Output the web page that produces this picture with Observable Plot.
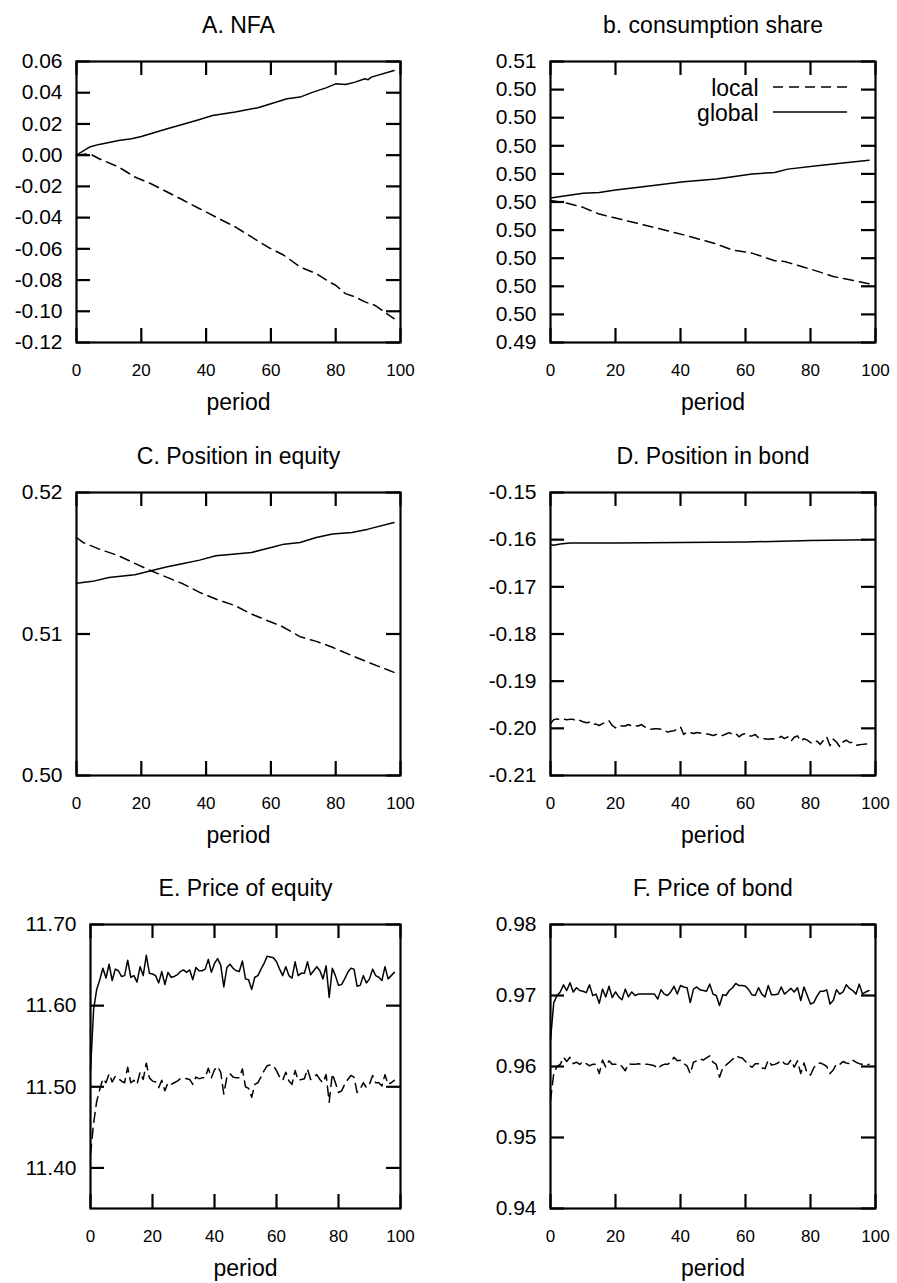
<!DOCTYPE html>
<html>
<head>
<meta charset="utf-8">
<script src="https://cdn.jsdelivr.net/npm/d3@7"></script>
<script src="https://cdn.jsdelivr.net/npm/@observablehq/plot@0.6"></script>
<style>
  body { margin: 0; background: #fff; }
  #chart { position: relative; width: 897px; height: 1283px; background: #fff; font-family: "Liberation Sans", Arial, Helvetica, sans-serif; }
  #chart svg { position: absolute; overflow: visible; }
</style>
</head>
<body>
<div id="chart"></div>
<script>
// ---------- shared x axis ----------
const xTicks = [0, 20, 40, 60, 80, 100];
const xTickLabels = ["0", "20", "40", "60", "80", "100"];
const periods = d3.range(0, 99);

// ---------- A. NFA ----------
const nfaYTicks = [-0.12, -0.10, -0.08, -0.06, -0.04, -0.02, 0.00, 0.02, 0.04, 0.06];
const nfaYLabels = ["-0.12", "-0.10", "-0.08", "-0.06", "-0.04", "-0.02", "0.00", "0.02", "0.04", "0.06"];
const nfaGlobalPeriods = [0, 4, 7, 13, 17, 20, 28, 34, 38, 42, 49, 56, 60, 65, 69, 73, 77, 80, 83, 86, 89, 90, 91, 98];
const nfaGlobal = [0.000, 0.0052, 0.0069, 0.0094, 0.0105, 0.0120, 0.0169, 0.0205, 0.0229, 0.0254, 0.0276, 0.0304, 0.0329, 0.0361, 0.0372, 0.0404, 0.0431, 0.0457, 0.0453, 0.0468, 0.0489, 0.0483, 0.0500, 0.0542];
const nfaLocalPeriods = [0, 4, 7, 13, 18, 23, 28, 33, 38, 43, 49, 54, 59, 64, 69, 74, 78, 80, 83, 86, 89, 92, 95, 98];
const nfaLocal = [0.000, 0.0010, -0.0023, -0.0076, -0.0140, -0.0183, -0.0236, -0.0289, -0.0343, -0.0396, -0.0460, -0.0524, -0.0588, -0.0641, -0.0716, -0.0759, -0.0812, -0.0833, -0.0887, -0.0908, -0.0940, -0.0961, -0.1004, -0.1047];

// ---------- b. consumption share ----------
const consYTicks = [0.495, 0.496, 0.497, 0.498, 0.499, 0.500, 0.501, 0.502, 0.503, 0.504, 0.505];
const consYLabels = ["0.49", "0.50", "0.50", "0.50", "0.50", "0.50", "0.50", "0.50", "0.50", "0.50", "0.51"];
const consGlobalPeriods = [0, 10, 15, 20, 31, 41, 51, 55, 62, 69, 73, 82, 98];
const consGlobal = [0.50014, 0.50031, 0.50034, 0.50043, 0.50058, 0.50072, 0.50082, 0.50088, 0.50100, 0.50105, 0.50117, 0.50129, 0.50149];
const consLocalPeriods = [0, 4, 10, 15, 20, 31, 41, 51, 56, 62, 69, 72, 78, 82, 87, 98];
const consLocal = [0.50005, 0.49999, 0.49981, 0.49957, 0.49943, 0.49912, 0.49883, 0.49851, 0.49829, 0.49818, 0.49791, 0.49788, 0.49768, 0.49754, 0.49735, 0.49709];
const legendLabels = ["local", "global"];

// ---------- C. Position in equity ----------
const eqPosYTicks = [0.50, 0.51, 0.52];
const eqPosYLabels = ["0.50", "0.51", "0.52"];
const eqPosGlobalPeriods = [0, 5, 10, 18, 23, 28, 33, 38, 43, 49, 54, 57, 61, 64, 69, 74, 79, 85, 90, 98];
const eqPosGlobal = [0.51358, 0.51372, 0.51400, 0.51419, 0.51447, 0.51475, 0.51499, 0.51522, 0.51553, 0.51565, 0.51576, 0.51593, 0.51616, 0.51635, 0.51647, 0.51682, 0.51706, 0.51718, 0.51741, 0.51788];
const eqPosLocalPeriods = [0, 2, 7, 13, 18, 23, 28, 33, 38, 43, 49, 54, 59, 63, 69, 74, 79, 85, 90, 98];
const eqPosLocal = [0.51682, 0.51647, 0.51600, 0.51553, 0.51499, 0.51447, 0.51400, 0.51353, 0.51294, 0.51247, 0.51200, 0.51141, 0.51094, 0.51059, 0.50981, 0.50948, 0.50906, 0.50847, 0.50800, 0.50729];

// ---------- D. Position in bond ----------
const bondPosYTicks = [-0.21, -0.20, -0.19, -0.18, -0.17, -0.16, -0.15];
const bondPosYLabels = ["-0.21", "-0.20", "-0.19", "-0.18", "-0.17", "-0.16", "-0.15"];
const bondPosGlobalPeriods = [0, 1, 3, 6, 20, 40, 60, 80, 98];
const bondPosGlobal = [-0.1610, -0.1612, -0.1609, -0.1607, -0.1607, -0.1606, -0.1605, -0.1602, -0.1600];
const bondPosLocal = [
  -0.1990, -0.1982, -0.1980, -0.1981, -0.1980, -0.1982, -0.1981, -0.1981, -0.1985, -0.1983,
  -0.1986, -0.1988, -0.1987, -0.1992, -0.1991, -0.1994, -0.1990, -0.1987, -0.1984, -0.1994,
  -0.1999, -0.1994, -0.1995, -0.1995, -0.1992, -0.1995, -0.1994, -0.1995, -0.1992, -0.1997,
  -0.2001, -0.2002, -0.2001, -0.2001, -0.2002, -0.2004, -0.2008, -0.2006, -0.2005, -0.2002,
  -0.1997, -0.2013, -0.2008, -0.2009, -0.2011, -0.2009, -0.2010, -0.2011, -0.2012, -0.2013,
  -0.2015, -0.2013, -0.2016, -0.2015, -0.2012, -0.2009, -0.2013, -0.2011, -0.2018, -0.2013,
  -0.2011, -0.2016, -0.2016, -0.2013, -0.2020, -0.2022, -0.2022, -0.2023, -0.2022, -0.2023,
  -0.2021, -0.2017, -0.2022, -0.2018, -0.2027, -0.2019, -0.2016, -0.2027, -0.2022, -0.2025,
  -0.2030, -0.2032, -0.2027, -0.2034, -0.2025, -0.2018, -0.2037, -0.2023, -0.2029, -0.2039,
  -0.2029, -0.2025, -0.2030, -0.2030, -0.2036, -0.2035, -0.2034, -0.2033, -0.2034];

// ---------- E. Price of equity ----------
const eqPriceYTicks = [11.40, 11.50, 11.60, 11.70];
const eqPriceYLabels = ["11.40", "11.50", "11.60", "11.70"];
const eqPriceGlobal = [
  11.520, 11.595, 11.620, 11.632, 11.646, 11.634, 11.651, 11.631, 11.645, 11.643,
  11.636, 11.637, 11.656, 11.635, 11.637, 11.629, 11.648, 11.637, 11.662, 11.640,
  11.639, 11.637, 11.628, 11.642, 11.626, 11.641, 11.635, 11.636, 11.638, 11.642,
  11.644, 11.641, 11.644, 11.632, 11.647, 11.643, 11.643, 11.645, 11.657, 11.641,
  11.652, 11.658, 11.650, 11.623, 11.647, 11.651, 11.646, 11.643, 11.642, 11.655,
  11.633, 11.632, 11.620, 11.635, 11.637, 11.645, 11.652, 11.661, 11.660, 11.659,
  11.654, 11.645, 11.637, 11.648, 11.637, 11.634, 11.654, 11.637, 11.640, 11.640,
  11.654, 11.638, 11.643, 11.648, 11.643, 11.633, 11.649, 11.610, 11.646, 11.637,
  11.625, 11.626, 11.633, 11.641, 11.646, 11.645, 11.624, 11.625, 11.637, 11.628,
  11.633, 11.645, 11.637, 11.635, 11.631, 11.648, 11.633, 11.637, 11.641];
const eqPriceLocal = [
  11.417, 11.455, 11.482, 11.497, 11.510, 11.505, 11.516, 11.506, 11.513, 11.510,
  11.507, 11.505, 11.524, 11.505, 11.508, 11.503, 11.518, 11.509, 11.529, 11.511,
  11.507, 11.506, 11.499, 11.508, 11.495, 11.505, 11.503, 11.505, 11.507, 11.510,
  11.511, 11.510, 11.509, 11.503, 11.512, 11.510, 11.511, 11.511, 11.523, 11.511,
  11.521, 11.525, 11.518, 11.491, 11.512, 11.516, 11.512, 11.511, 11.511, 11.522,
  11.500, 11.498, 11.487, 11.503, 11.505, 11.512, 11.520, 11.526, 11.527, 11.526,
  11.520, 11.512, 11.508, 11.518, 11.507, 11.503, 11.520, 11.508, 11.509, 11.510,
  11.522, 11.509, 11.512, 11.515, 11.509, 11.505, 11.515, 11.481, 11.516, 11.505,
  11.493, 11.495, 11.503, 11.509, 11.514, 11.512, 11.493, 11.497, 11.505, 11.499,
  11.503, 11.514, 11.505, 11.505, 11.501, 11.515, 11.503, 11.505, 11.508];

// ---------- F. Price of bond ----------
const bondPriceYTicks = [0.94, 0.95, 0.96, 0.97, 0.98];
const bondPriceYLabels = ["0.94", "0.95", "0.96", "0.97", "0.98"];
const bondPriceGlobal = [
  0.9637, 0.9690, 0.9700, 0.9705, 0.9715, 0.9707, 0.9718, 0.9705, 0.9711, 0.9707,
  0.9706, 0.9704, 0.9715, 0.9700, 0.9702, 0.9689, 0.9709, 0.9698, 0.9713, 0.9697,
  0.9705, 0.9698, 0.9694, 0.9709, 0.9698, 0.9705, 0.9700, 0.9702, 0.9702, 0.9702,
  0.9702, 0.9702, 0.9702, 0.9695, 0.9708, 0.9702, 0.9700, 0.9705, 0.9713, 0.9702,
  0.9714, 0.9712, 0.9711, 0.9690, 0.9709, 0.9712, 0.9708, 0.9707, 0.9706, 0.9716,
  0.9702, 0.9700, 0.9686, 0.9701, 0.9700, 0.9707, 0.9711, 0.9717, 0.9714, 0.9714,
  0.9713, 0.9708, 0.9701, 0.9700, 0.9711, 0.9702, 0.9698, 0.9714, 0.9701, 0.9701,
  0.9702, 0.9712, 0.9702, 0.9706, 0.9710, 0.9705, 0.9711, 0.9693, 0.9712, 0.9700,
  0.9688, 0.9690, 0.9699, 0.9706, 0.9706, 0.9708, 0.9688, 0.9693, 0.9708, 0.9702,
  0.9705, 0.9715, 0.9710, 0.9707, 0.9702, 0.9716, 0.9702, 0.9705, 0.9707];
const bondPriceLocal = [
  0.9552, 0.9590, 0.9600, 0.9603, 0.9613, 0.9607, 0.9613, 0.9604, 0.9606, 0.9603,
  0.9607, 0.9604, 0.9601, 0.9603, 0.9603, 0.9590, 0.9609, 0.9599, 0.9608, 0.9603,
  0.9603, 0.9604, 0.9600, 0.9594, 0.9604, 0.9603, 0.9603, 0.9604, 0.9603, 0.9603,
  0.9603, 0.9602, 0.9601, 0.9597, 0.9601, 0.9603, 0.9603, 0.9606, 0.9613, 0.9608,
  0.9609, 0.9604, 0.9601, 0.9590, 0.9606, 0.9608, 0.9611, 0.9609, 0.9612, 0.9615,
  0.9606, 0.9603, 0.9585, 0.9598, 0.9602, 0.9606, 0.9610, 0.9615, 0.9613, 0.9612,
  0.9607, 0.9602, 0.9599, 0.9604, 0.9604, 0.9598, 0.9597, 0.9609, 0.9602, 0.9603,
  0.9605, 0.9609, 0.9604, 0.9603, 0.9609, 0.9599, 0.9608, 0.9590, 0.9605, 0.9590,
  0.9588, 0.9598, 0.9604, 0.9605, 0.9603, 0.9600, 0.9590, 0.9595, 0.9604, 0.9603,
  0.9607, 0.9605, 0.9604, 0.9609, 0.9606, 0.9604, 0.9603, 0.9602, 0.9603];

// ---------- layout ----------
const panels = [
  {title: "A. NFA", left: 0, top: 0, width: 448, height: 420, mL: 76, mR: 48, mT: 61, mB: 78,
   yDomain: [-0.12, 0.06], yTicks: nfaYTicks, yLabels: nfaYLabels,
   local: [nfaLocalPeriods, nfaLocal], global: [nfaGlobalPeriods, nfaGlobal]},
  {title: "b. consumption share", left: 448, top: 0, width: 449, height: 420, mL: 102, mR: 22, mT: 61, mB: 78,
   yDomain: [0.495, 0.505], yTicks: consYTicks, yLabels: consYLabels,
   local: [consLocalPeriods, consLocal], global: [consGlobalPeriods, consGlobal], legend: true},
  {title: "C. Position in equity", left: 0, top: 420, width: 448, height: 420, mL: 76, mR: 48, mT: 72, mB: 65,
   yDomain: [0.50, 0.52], yTicks: eqPosYTicks, yLabels: eqPosYLabels,
   local: [eqPosLocalPeriods, eqPosLocal], global: [eqPosGlobalPeriods, eqPosGlobal]},
  {title: "D. Position in bond", left: 448, top: 420, width: 449, height: 420, mL: 102, mR: 22, mT: 72, mB: 65,
   yDomain: [-0.21, -0.15], yTicks: bondPosYTicks, yLabels: bondPosYLabels,
   local: [periods, bondPosLocal], global: [bondPosGlobalPeriods, bondPosGlobal]},
  {title: "E. Price of equity", left: 0, top: 840, width: 448, height: 443, mL: 90, mR: 48, mT: 84, mB: 75,
   yDomain: [11.35, 11.70], yTicks: eqPriceYTicks, yLabels: eqPriceYLabels,
   local: [periods, eqPriceLocal], global: [periods, eqPriceGlobal]},
  {title: "F. Price of bond", left: 448, top: 840, width: 449, height: 443, mL: 102, mR: 22, mT: 84, mB: 75,
   yDomain: [0.94, 0.98], yTicks: bondPriceYTicks, yLabels: bondPriceYLabels,
   local: [periods, bondPriceLocal], global: [periods, bondPriceGlobal]}
];

const DASH = "10,6";
const TICK = 14;
const LINE_W = 1.5;
const chart = document.getElementById("chart");

function rows([ps, vs]) {
  return ps.map((p, i) => ({period: p, value: vs[i]}));
}

for (const p of panels) {
  const innerW = p.width - p.mL - p.mR;
  const innerH = p.height - p.mT - p.mB;
  const tickStyle = {stroke: "#000", strokeWidth: 2.2};
  const marks = [
    Plot.axisX({ticks: xTicks, tickFormat: d => xTickLabels[xTicks.indexOf(d)], tickSize: 0, tickPadding: 21, fontSize: 17, label: null}),
    Plot.axisY({ticks: p.yTicks, tickFormat: d => p.yLabels[p.yTicks.indexOf(d)], tickSize: 0, tickPadding: 14, fontSize: 21, label: null}),
    Plot.tickX(xTicks, {x: d => d, insetTop: innerH - TICK, ...tickStyle}),
    Plot.tickX(xTicks, {x: d => d, insetBottom: innerH - TICK, ...tickStyle}),
    Plot.tickY(p.yTicks, {y: d => d, insetRight: innerW - TICK, ...tickStyle}),
    Plot.tickY(p.yTicks, {y: d => d, insetLeft: innerW - TICK, ...tickStyle}),
    Plot.line(rows(p.local), {x: "period", y: "value", stroke: "#000", strokeWidth: LINE_W, strokeDasharray: DASH}),
    Plot.line(rows(p.global), {x: "period", y: "value", stroke: "#000", strokeWidth: LINE_W}),
    Plot.frame({stroke: "#000", strokeWidth: 2.2}),
    Plot.text([p.title], {frameAnchor: "top", lineAnchor: "middle", dy: -36, fontSize: 23}),
    Plot.text(["period"], {frameAnchor: "bottom", lineAnchor: "middle", dy: 60, fontSize: 23})
  ];
  if (p.legend) {
    marks.push(Plot.text([legendLabels[0]], {frameAnchor: "top-right", lineAnchor: "middle", dx: -117, dy: 27, textAnchor: "end", fontSize: 23}));
    marks.push(Plot.text([legendLabels[1]], {frameAnchor: "top-right", lineAnchor: "middle", dx: -117, dy: 52, textAnchor: "end", fontSize: 23}));
  }
  const svg = Plot.plot({
    width: p.width, height: p.height,
    marginLeft: p.mL, marginRight: p.mR, marginTop: p.mT, marginBottom: p.mB,
    x: {domain: [0, 100]},
    y: {domain: p.yDomain},
    style: {fontFamily: "'Liberation Sans', Arial, Helvetica, sans-serif", fontSize: "21px", color: "#000", background: "transparent", overflow: "visible"},
    marks
  });
  svg.style.left = p.left + "px";
  svg.style.top = p.top + "px";
  if (p.legend) {
    const g = d3.select(svg).append("g").attr("stroke", "#000").attr("stroke-width", LINE_W);
    const x1 = p.width - p.mR - 102, x2 = p.width - p.mR - 28;
    g.append("line").attr("x1", x1).attr("x2", x2).attr("y1", p.mT + 26).attr("y2", p.mT + 26).attr("stroke-dasharray", DASH);
    g.append("line").attr("x1", x1).attr("x2", x2).attr("y1", p.mT + 51).attr("y2", p.mT + 51);
  }
  chart.appendChild(svg);
}
</script>
</body>
</html>
